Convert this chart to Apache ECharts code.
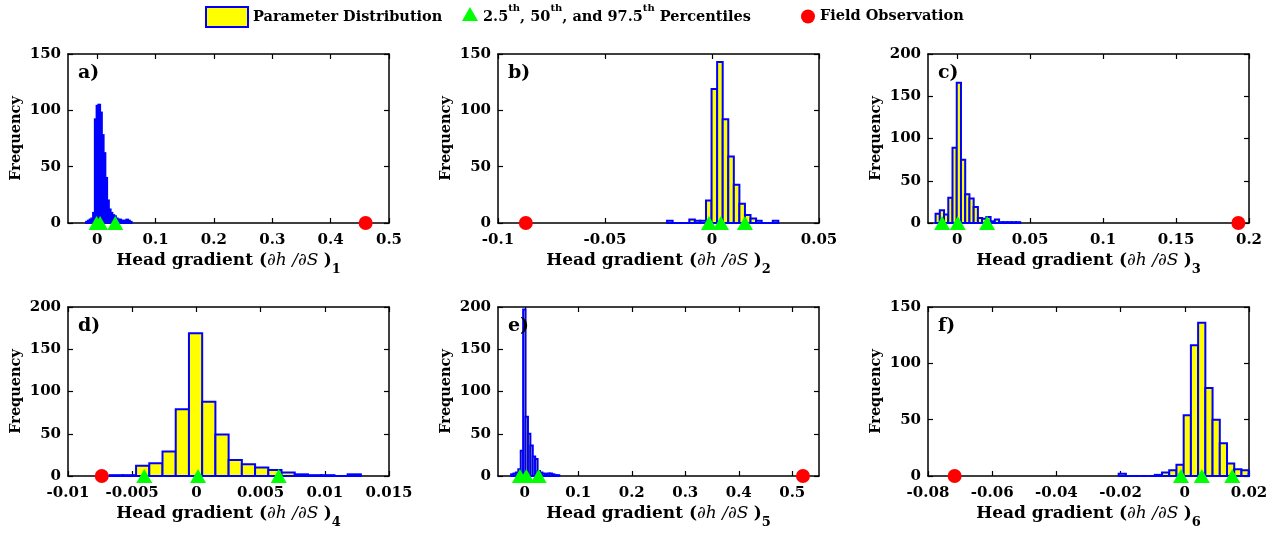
<!DOCTYPE html>
<html><head><meta charset="utf-8">
<script src="https://cdn.jsdelivr.net/npm/echarts@6/dist/echarts.min.js"></script>
<style>html,body{margin:0;padding:0;background:#fff}#c{width:1281px;height:533px}</style>
</head><body><div id="c"></div>
<script>
// ---------- DATA ----------
// Panel a
const aBinStart = -0.019, aBinWidth = 0.003;
const aCounts = [1,2,3,4,9,92,104,105,98,78,62,40,20,12,9,7,6,4,3,3,2,2,2,3,2,1];
const aPercentiles = [-0.001, 0.005, 0.031];
const aObservation = 0.46;
const aXRange = [-0.05, 0.5];
const aXTicks = [0, 0.1, 0.2, 0.3, 0.4, 0.5];
const aYTicks = [0, 50, 100, 150];
// Panel b
const bBinStart = -0.021, bBinWidth = 0.0026;
const bCounts = [2,0,0,0,3,2,2,20,119,143,92,59,34,17,7,4,2,0,0,2];
const bPercentiles = [-0.0014, 0.0042, 0.0154];
const bObservation = -0.087;
const bXRange = [-0.1, 0.05];
const bXTicks = [-0.1, -0.05, 0, 0.05];
const bYTicks = [0, 50, 100, 150];
// Panel c
const cBinStart = -0.0148, cBinWidth = 0.0029;
const cCounts = [11,15,10,30,89,166,75,34,29,19,6,5,7,2,4,1,1,1,1,1];
const cPercentiles = [-0.0103, 0.0004, 0.0205];
const cObservation = 0.1927;
const cXRange = [-0.02, 0.2];
const cXTicks = [0, 0.05, 0.1, 0.15, 0.2];
const cYTicks = [0, 50, 100, 150, 200];
// Panel d
const dBinStart = -0.00676, dBinWidth = 0.00103;
const dCounts = [1,1,12,15,29,79,169,88,49,19,14,10,7,4,2,1,1,0,2];
const dPercentiles = [-0.00406, 0.00013, 0.00641];
const dObservation = -0.00737;
const dXRange = [-0.01, 0.015];
const dXTicks = [-0.01, -0.005, 0, 0.005, 0.01, 0.015];
const dYTicks = [0, 50, 100, 150, 200];
// Panel e
const eBinStart = -0.0255, eBinWidth = 0.0045;
const eCounts = [2,3,4,8,30,197,70,50,36,23,20,6,4,3,2,3,3,2,1,1];
const ePercentiles = [-0.009, 0.003, 0.026];
const eObservation = 0.52;
const eXRange = [-0.05, 0.55];
const eXTicks = [0, 0.1, 0.2, 0.3, 0.4, 0.5];
const eYTicks = [0, 50, 100, 150, 200];
// Panel f
const fBinStart = -0.0206, fBinWidth = 0.00225;
const fCounts = [2,0,0,0,0,1,3,5,10,54,116,136,78,50,29,11,6,5,2];
const fPercentiles = [-0.0012, 0.0053, 0.0148];
const fObservation = -0.0717;
const fXRange = [-0.08, 0.02];
const fXTicks = [-0.08, -0.06, -0.04, -0.02, 0, 0.02];
const fYTicks = [0, 50, 100, 150];

const panelLabels = ['a)', 'b)', 'c)', 'd)', 'e)', 'f)'];
const subscripts = ['1', '2', '3', '4', '5', '6'];
const seriesNames = ['Parameter Distribution', '2.5th, 50th, and 97.5th Percentiles', 'Field Observation'];

// ---------- BUILD ----------
const panels = [
  [aBinStart, aBinWidth, aCounts, aPercentiles, aObservation, aXRange, aXTicks, aYTicks],
  [bBinStart, bBinWidth, bCounts, bPercentiles, bObservation, bXRange, bXTicks, bYTicks],
  [cBinStart, cBinWidth, cCounts, cPercentiles, cObservation, cXRange, cXTicks, cYTicks],
  [dBinStart, dBinWidth, dCounts, dPercentiles, dObservation, dXRange, dXTicks, dYTicks],
  [eBinStart, eBinWidth, eCounts, ePercentiles, eObservation, eXRange, eXTicks, eYTicks],
  [fBinStart, fBinWidth, fCounts, fPercentiles, fObservation, fXRange, fXTicks, fYTicks]
];

const FONT = 'DejaVu Serif';
const colLeft = [68, 498, 928];
const rowTop = [54, 307];
const gW = 321, gH = 169;

const grids = [], xAxes = [], yAxes = [], series = [], titles = [];
const axisLineStyle = { show: true, onZero: false, lineStyle: { color: '#000', width: 1.5 } };
const tickStyle = { show: true, inside: true, length: 5, lineStyle: { color: '#000', width: 1.2 } };
const labelStyle = { fontFamily: FONT, fontWeight: 'bold', fontSize: 15, color: '#000' };

panels.forEach((p, i) => {
  const [binStart, binWidth, counts, pct, obs, xr, xt, yt] = p;
  const left = colLeft[i % 3], top = rowTop[Math.floor(i / 3)];
  grids.push({ left: left, top: top, width: gW, height: gH, containLabel: false });
  const xBase = { type: 'value', gridIndex: i, min: xr[0], max: xr[1], splitLine: { show: false },
    axisLine: axisLineStyle };
  xAxes.push(Object.assign({}, xBase, {
    position: 'bottom',
    axisTick: Object.assign({}, tickStyle, { customValues: xt }),
    axisLabel: Object.assign({}, labelStyle, { customValues: xt, margin: 10 }),
    name: '{b|Head gradient (}{i|∂h /∂S }{b|)}{s|' + subscripts[i] + '}',
    nameLocation: 'middle', nameGap: 29,
    nameTextStyle: { rich: {
      b: { fontFamily: FONT, fontWeight: 'bold', fontSize: 17, color: '#000', lineHeight: 24, verticalAlign: 'top' },
      i: { fontFamily: FONT, fontStyle: 'italic', fontWeight: 'normal', fontSize: 17, color: '#000', lineHeight: 24, verticalAlign: 'top' },
      s: { fontFamily: FONT, fontWeight: 'bold', fontSize: 13, color: '#000', lineHeight: 24, verticalAlign: 'bottom' }
    } }
  }));
  xAxes.push(Object.assign({}, xBase, {
    position: 'top',
    axisTick: Object.assign({}, tickStyle, { customValues: xt }),
    axisLabel: { show: false }
  }));
  const yBase = { type: 'value', gridIndex: i, min: yt[0], max: yt[yt.length - 1], splitLine: { show: false },
    axisLine: axisLineStyle };
  yAxes.push(Object.assign({}, yBase, {
    position: 'left',
    axisTick: Object.assign({}, tickStyle, { customValues: yt }),
    axisLabel: Object.assign({}, labelStyle, { customValues: yt, margin: 7 }),
    name: 'Frequency', nameLocation: 'middle', nameGap: 44,
    nameTextStyle: { fontFamily: FONT, fontWeight: 'bold', fontSize: 14.5, color: '#000' }
  }));
  yAxes.push(Object.assign({}, yBase, {
    position: 'right',
    axisTick: Object.assign({}, tickStyle, { customValues: yt }),
    axisLabel: { show: false }
  }));

  const bins = counts.map((c, k) => [binStart + k * binWidth, binStart + (k + 1) * binWidth, c]);
  series.push({
    type: 'custom', name: seriesNames[0], xAxisIndex: 2 * i, yAxisIndex: 2 * i,
    clip: false, z: 3, silent: true,
    encode: { x: [0, 1], y: 2 },
    data: bins,
    renderItem: function (params, api) {
      const cs = params.coordSys;
      const p0 = api.coord([api.value(0), api.value(2)]);
      const p1 = api.coord([api.value(1), 0]);
      const x0 = Math.max(p0[0], cs.x), x1 = Math.min(p1[0], cs.x + cs.width);
      return { type: 'rect', shape: { x: x0, y: p0[1], width: x1 - x0, height: p1[1] - p0[1] },
        style: { fill: '#ffff00', stroke: '#0000ff', lineWidth: 2 } };
    }
  });
  series.push({
    type: 'scatter', name: seriesNames[1], xAxisIndex: 2 * i, yAxisIndex: 2 * i,
    symbol: 'triangle', symbolSize: [16, 14], z: 5, silent: true, clip: false,
    itemStyle: { color: '#00ff00', opacity: 1 },
    data: pct.map(v => [v, 0])
  });
  series.push({
    type: 'scatter', name: seriesNames[2], xAxisIndex: 2 * i, yAxisIndex: 2 * i,
    symbol: 'circle', symbolSize: 14, z: 5, silent: true, clip: false,
    itemStyle: { color: '#ff0000', opacity: 1 },
    data: [[obs, 0]]
  });
  titles.push({ text: panelLabels[i], left: left + 5, top: top + 5,
    textStyle: { fontFamily: FONT, fontWeight: 'bold', fontSize: 19, color: '#000' } });
});

const legendText = { fontFamily: FONT, fontWeight: 'bold', fontSize: 14.5, color: '#000',
  rich: {
    n: { fontFamily: FONT, fontWeight: 'bold', fontSize: 14.5, color: '#000', lineHeight: 22, verticalAlign: 'bottom' },
    sup: { fontFamily: FONT, fontWeight: 'bold', fontSize: 10, color: '#000', lineHeight: 22, verticalAlign: 'top' }
  } };

const option = {
  animation: false,
  backgroundColor: '#fff',
  title: titles,
  grid: grids,
  xAxis: xAxes,
  yAxis: yAxes,
  legend: [
    { left: 205, top: 6, padding: 0, itemWidth: 42, itemHeight: 20, selectedMode: false, textStyle: legendText,
      data: [{ name: seriesNames[0], icon: 'rect', itemStyle: { color: '#ffff00', borderColor: '#0000ff', borderWidth: 2 } }] },
    { left: 462, top: 3, padding: 0, itemWidth: 16, itemHeight: 14, selectedMode: false, textStyle: legendText,
      formatter: () => '{n|2.5}{sup|th}{n|, 50}{sup|th}{n|, and 97.5}{sup|th}{n| Percentiles}',
      data: [{ name: seriesNames[1], icon: 'triangle', itemStyle: { color: '#00ff00', opacity: 1 } }] },
    { left: 801, top: 9, padding: 0, itemWidth: 14, itemHeight: 14, selectedMode: false, textStyle: legendText,
      data: [{ name: seriesNames[2], icon: 'circle', itemStyle: { color: '#ff0000', opacity: 1 } }] }
  ],
  series: series
};

const chart = echarts.init(document.getElementById('c'), null, { renderer: 'canvas' });
chart.setOption(option);
</script>
</body></html>
